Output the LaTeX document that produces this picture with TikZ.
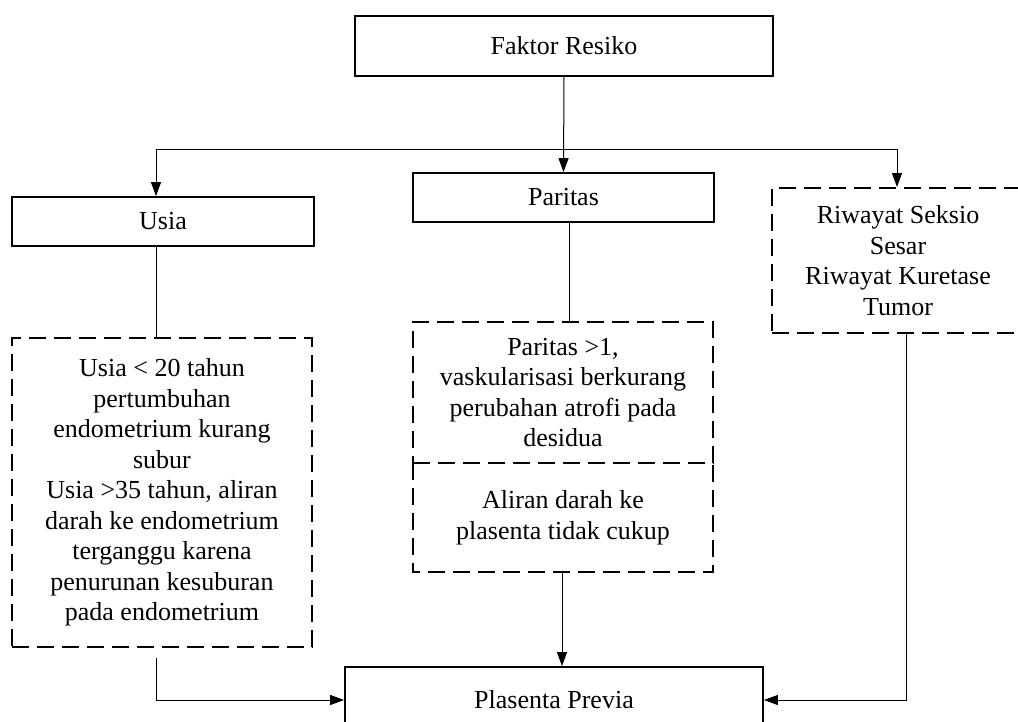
\documentclass[tikz,border=0pt]{standalone}
\usepackage{fontspec}
\setmainfont{Liberation Serif}
\usetikzlibrary{arrows.meta}
\begin{document}
\begin{tikzpicture}[x=1pt,y=-1pt,
  txt/.style={font=\fontsize{26}{30.5}\selectfont, align=center, inner sep=0pt},
  solidbox/.style={txt, draw, line width=1.8pt, rectangle},
  dashline/.style={line width=2pt, dash pattern=on 17pt off 8pt},
  dashbox/.style={txt, draw, dashline, rectangle},
  conn/.style={line width=1pt},
  arr/.style={conn, -{Triangle[length=14pt,width=10pt]}}]
\useasboundingbox (0,0) rectangle (1018,721);
\node[solidbox, minimum width=418pt, minimum height=60pt] (fr) at (564,46) {Faktor Resiko};
\node[solidbox, minimum width=302pt, minimum height=49pt] (usia) at (163,221.5) {Usia};
\node[solidbox, minimum width=301pt, minimum height=49pt] (par) at (563.5,197.5) {Paritas};
\node[dashbox, minimum width=252pt, minimum height=145pt] (riw) at (898,260.5) {Riwayat Seksio\\Sesar\\Riwayat Kuretase\\Tumor};
\node[dashbox, minimum width=300pt, minimum height=309pt] (ld) at (162,492.5) {Usia < 20 tahun\\pertumbuhan\\endometrium kurang\\subur\\Usia >35 tahun, aliran\\darah ke endometrium\\terganggu karena\\penurunan kesuburan\\pada endometrium};
\node[dashbox, minimum width=300pt, minimum height=141pt] (p1) at (563,392.5) {Paritas >1,\\vaskularisasi berkurang\\perubahan atrofi pada\\desidua};
\node[txt, minimum width=300pt, minimum height=109pt] (p2) at (563,517.5) {Aliran darah ke\\plasenta tidak cukup};
\draw[dashline] (p2.north west) -- (p2.south west) -- (p2.south east) -- (p2.north east);
\node[solidbox, minimum width=418pt, minimum height=66pt] (pp) at (554,700) {Plasenta Previa};
% connectors
\coordinate (hl) at (156,149);
\coordinate (hr) at (897,149);
\draw[arr] (fr.south) -- (par.north);
\draw[conn] (hl) -- (hr);
\draw[arr] (hl) -- (hl |- usia.north);
\draw[arr] (hr) -- (hr |- riw.north);
\draw[conn] (156,0 |- usia.south) -- (156,0 |- ld.north);
\draw[conn] (569,0 |- par.south) -- (569,0 |- p1.north);
\draw[arr] (562,0 |- p2.south) -- (562,0 |- pp.north);
\coordinate (lstart) at (156,658);
\draw[arr] (lstart) |- (pp.west);
\draw[arr] (906,0 |- riw.south) |- (pp.east);
\end{tikzpicture}
\end{document}
